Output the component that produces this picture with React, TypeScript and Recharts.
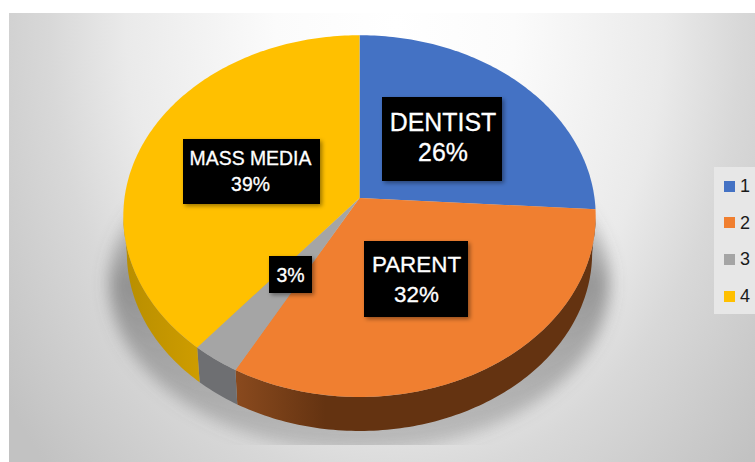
import React from 'react';
import { PieChart, Pie, Legend } from 'recharts';

// Survey split by source of information
const legendNames = ['1', '2', '3', '4'];
const sourceNames = ['DENTIST', 'PARENT', '', 'MASS MEDIA'];
const shares = [26, 32, 3, 39];

const topColors = ['#4472C4', '#F07F30', '#A5A5A5', '#FFC000'];
const wallStops = [
  ['#2A4A80', '#2A4A80'],
  ['#8A4A1E', '#643311'],
  ['#6E6F72', '#6E6F72'],
  ['#B88E00', '#CD9C00'],
];

// Callout boxes: left, top, width, height, font size, text centre, baselines of the two text lines
const callouts = [
  { x: 382, y: 97, w: 120, h: 84, size: 24.9, mid: 443, line1: 131, line2: 161 },
  { x: 364, y: 241, w: 104, h: 76, size: 22.4, mid: 416.5, line1: 272, line2: 302 },
  { x: 269, y: 256, w: 43, h: 37, size: 19.5, mid: 290.5, line1: 0, line2: 282 },
  { x: 183, y: 139, w: 137, h: 65, size: 19.4, mid: 250.5, line1: 165, line2: 191 },
];

const rows = legendNames.map((name, i) => ({
  name,
  share: shares[i],
  fill: topColors[i],
}));

const WIDTH = 755;
const HEIGHT = 462;
const CX = 359.5;
const CY = 198;
const RADIUS = 235;

// Tilt of the disc: foreshortening of depth and perspective strength
const DEPTH_RATIO = 0.762;
const PERSPECTIVE = 0.1;
// The base of the disc sits lower and a little further from the viewer
const BASE_DROP = 37;
const BASE_SCALE = 0.985;

const FONT = '"Liberation Sans", Arial, sans-serif';

type Pt = [number, number];

const project = (cx: number, cy: number, r: number, deg: number): Pt => {
  const a = (deg * Math.PI) / 180;
  const u = Math.cos(a);
  const v = -Math.sin(a);
  const w = 1 - PERSPECTIVE * v;
  return [cx + (r * u) / w, cy + (r * DEPTH_RATIO * v) / w];
};

const arc = (cx: number, cy: number, r: number, from: number, to: number): Pt[] => {
  const steps = Math.max(2, Math.ceil(Math.abs(to - from)));
  const out: Pt[] = [];
  for (let i = 0; i <= steps; i++) {
    out.push(project(cx, cy, r, from + ((to - from) * i) / steps));
  }
  return out;
};

const toPath = (pts: Pt[]) =>
  pts.map((p, i) => `${i ? 'L' : 'M'}${p[0].toFixed(2)} ${p[1].toFixed(2)}`).join(' ') + ' Z';

const lowered = (p: Pt, cx: number, cy: number): Pt => [
  cx + (p[0] - cx) * BASE_SCALE,
  cy + (p[1] - cy) * BASE_SCALE + BASE_DROP,
];

// One slice of the tilted disc: outer wall on the near side, then the top face
const DiscSlice = (props: any) => {
  const { cx, cy, outerRadius, startAngle, endAngle, fill } = props;
  const index = topColors.indexOf(fill);
  const hi = Math.min(startAngle, -6);
  const lo = Math.max(endAngle, -174);
  const gradId = `wall-${index}`;
  let wall = null;
  if (hi > lo) {
    const rim = arc(cx, cy, outerRadius, hi, lo);
    const base = rim.map((p) => lowered(p, cx, cy)).reverse();
    const xs = rim.map((p) => p[0]);
    const leftX = Math.min(...xs);
    const rightX = Math.max(...xs);
    const [c0, c1] = wallStops[index];
    wall = (
      <g>
        <defs>
          <linearGradient
            id={gradId}
            gradientUnits="userSpaceOnUse"
            x1={leftX}
            x2={index === 1 ? leftX + 90 : rightX}
            y1={0}
            y2={0}
          >
            <stop offset="0" stopColor={c0} />
            <stop offset="1" stopColor={c1} />
          </linearGradient>
        </defs>
        <path d={toPath([...rim, ...base])} fill={`url(#${gradId})`} />
      </g>
    );
  }
  const face = [[cx, cy] as Pt, ...arc(cx, cy, outerRadius, startAngle, endAngle)];
  return (
    <g>
      {wall}
      <path d={toPath(face)} fill={fill} />
    </g>
  );
};

// Black callout carrying the source name and its share
const Callout = (props: any) => {
  const i = props.index;
  const c = callouts[i];
  if (!c) return null;
  const textProps = {
    x: c.mid,
    fill: '#FFFFFF',
    stroke: '#FFFFFF',
    strokeWidth: 0.3,
    fontFamily: FONT,
    fontSize: c.size,
    textAnchor: 'middle' as const,
  };
  return (
    <g>
      <rect x={c.x} y={c.y} width={c.w} height={c.h} fill="#000000" filter="url(#boxShadow)" />
      {sourceNames[i] ? (
        <text {...textProps} y={c.line1}>
          {sourceNames[i]}
        </text>
      ) : null}
      <text {...textProps} y={c.line2}>
        {`${shares[i]}%`}
      </text>
    </g>
  );
};

const LegendBox = ({ payload }: any) => (
  <div
    style={{
      width: 41,
      height: 147,
      background: '#E7E7E7',
      boxSizing: 'border-box',
      paddingTop: 1,
    }}
  >
    {(payload || []).map((entry: any) => (
      <div
        key={entry.value}
        style={{
          height: 36.6,
          display: 'flex',
          alignItems: 'center',
          paddingLeft: 10,
          boxSizing: 'border-box',
        }}
      >
        <span style={{ width: 11, height: 11, background: entry.color, display: 'inline-block' }} />
        <span
          style={{
            marginLeft: 5,
            fontFamily: FONT,
            fontSize: 18,
            color: '#1A1A1A',
            lineHeight: '18px',
          }}
        >
          {entry.value}
        </span>
      </div>
    ))}
  </div>
);

export default function App() {
  return (
    <div style={{ position: 'absolute', left: 0, top: 0, width: WIDTH, height: HEIGHT, background: '#FFFFFF' }}>
      <PieChart width={WIDTH} height={HEIGHT} margin={{ top: 0, right: 0, bottom: 0, left: 0 }}>
        <defs>
          <radialGradient
            id="panelFill"
            gradientUnits="userSpaceOnUse"
            cx={0}
            cy={0}
            r={1}
            gradientTransform="translate(395 25) scale(480 640)"
          >
            <stop offset="0" stopColor="#FFFFFF" />
            <stop offset="0.25" stopColor="#FBFBFB" />
            <stop offset="0.56" stopColor="#EAEAEA" />
            <stop offset="0.72" stopColor="#D8D8D8" />
            <stop offset="1" stopColor="#C2C2C2" />
          </radialGradient>
          <linearGradient id="shadowFade" gradientUnits="userSpaceOnUse" x1={0} x2={0} y1={165} y2={445}>
            <stop offset="0" stopColor="#606060" stopOpacity={0} />
            <stop offset="0.42" stopColor="#606060" stopOpacity={0.6} />
            <stop offset="0.65" stopColor="#606060" stopOpacity={0.45} />
            <stop offset="1" stopColor="#606060" stopOpacity={0.3} />
          </linearGradient>
          <filter id="discBlur" x="-20%" y="-20%" width="140%" height="140%">
            <feGaussianBlur stdDeviation="8" />
          </filter>
          <filter id="boxShadow" x="-20%" y="-20%" width="140%" height="140%">
            <feDropShadow dx="2" dy="2" stdDeviation="2" floodColor="#000000" floodOpacity="0.4" />
          </filter>
          <clipPath id="panelClip">
            <rect x={9} y={13} width={746} height={432} />
          </clipPath>
        </defs>
        <rect x={9} y={13} width={746} height={449} fill="url(#panelFill)" />
        <g clipPath="url(#panelClip)">
          <ellipse cx={CX} cy={283} rx={250} ry={168} fill="url(#shadowFade)" filter="url(#discBlur)" />
        </g>
        <Pie
          data={rows}
          dataKey="share"
          nameKey="name"
          cx={CX}
          cy={CY}
          outerRadius={RADIUS}
          innerRadius={0}
          startAngle={90}
          endAngle={-270}
          paddingAngle={0}
          stroke="none"
          shape={DiscSlice}
          label={Callout}
          labelLine={false}
          isAnimationActive={false}
        />
        <Legend
          layout="vertical"
          align="right"
          verticalAlign="top"
          content={LegendBox}
          wrapperStyle={{ position: 'absolute', left: 714, top: 167, width: 41, height: 147 }}
        />
      </PieChart>
    </div>
  );
}
